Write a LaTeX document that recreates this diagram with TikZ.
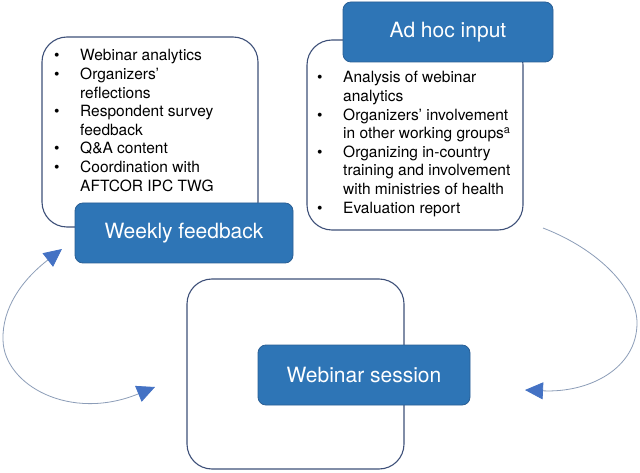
\documentclass[tikz,border=0pt]{standalone}
\usepackage{fontspec}
\setmainfont{TeX Gyre Heros}
\usetikzlibrary{arrows.meta}
\definecolor{boxblue}{HTML}{2E75B6}
\definecolor{boxblueedge}{HTML}{2A5F95}
\definecolor{framecol}{HTML}{3E5079}
\definecolor{arcline}{HTML}{8C9DB8}
\definecolor{tipblue}{HTML}{4472C4}
\newcommand{\bl}{\makebox[26pt][l]{\textbullet}}
\begin{document}
\begin{tikzpicture}[x=1pt,y=-1pt,
  framebox/.style={draw=framecol, line width=1.1pt, rounded corners=25pt, fill=white, inner sep=0pt},
  tagbox/.style={draw=boxblueedge, line width=0.8pt, fill=boxblue, rounded corners=8pt, text=white, inner sep=0pt, font=\fontsize{21}{25}\selectfont},
  listtext/.style={anchor=base west, inner sep=0pt, font=\fontsize{15.5}{18.6}\selectfont, text=black},
  arcpath/.style={draw=arcline, line width=0.8pt},
  bigtri/.tip={Triangle[length=18pt,width=17pt,color=tipblue]}]
\fill[white] (0,0) rectangle (640,473);
\useasboundingbox (0,0) rectangle (640,473);

% white frames
\node[framebox, minimum width=216pt, minimum height=190pt] (fleft) at (150,132) {};
\node[framebox, minimum width=216pt, minimum height=190pt] (fright) at (415,135) {};
\node[framebox, minimum width=217pt, minimum height=190pt] (fsession) at (295.5,374) {};

% lists
\node[listtext] (lleft) at (54,61) {\begin{tabular}[t]{@{}l@{}}
\bl Webinar analytics\\
\bl Organizers’\\
\hspace{26pt}reflections\\
\bl Respondent survey\\
\hspace{26pt}feedback\\
\bl Q\&A content\\
\bl Coordination with\\
\hspace{26pt}AFTCOR IPC TWG
\end{tabular}};
\node[listtext] (lright) at (317,83) {\begin{tabular}[t]{@{}l@{}}
\bl Analysis of webinar\\
\hspace{26pt}analytics\\
\bl Organizers’ involvement\\
\hspace{26pt}in other working groups\textsuperscript{a}\\
\bl Organizing in-country\\
\hspace{26pt}training and involvement\\
\hspace{26pt}with ministries of health\\
\bl Evaluation report
\end{tabular}};

% blue tags
\node[tagbox, minimum width=218pt, minimum height=60pt] (weekly) at (184,233) {Weekly feedback};
\node[tagbox, minimum width=210pt, minimum height=60pt] (adhoc) at (448,32) {Ad hoc input};
\node[tagbox, minimum width=212pt, minimum height=60pt] (session) at (364,375) {Webinar session};

% arcs
\coordinate (ltop) at (62,249);
\coordinate (lbot) at (155,387);
\coordinate (rtop) at (543,228);
\coordinate (rbot) at (525,390);
\draw[arcpath, {bigtri}-{bigtri}] (ltop) .. controls (22,280) and (2,308) .. (3,340) .. controls (4,385) and (70,422) .. (lbot);
\draw[arcpath, -{bigtri}] (rtop) .. controls (600,250) and (637,290) .. (637,323) .. controls (637,368) and (590,393) .. (rbot);
\end{tikzpicture}
\end{document}
